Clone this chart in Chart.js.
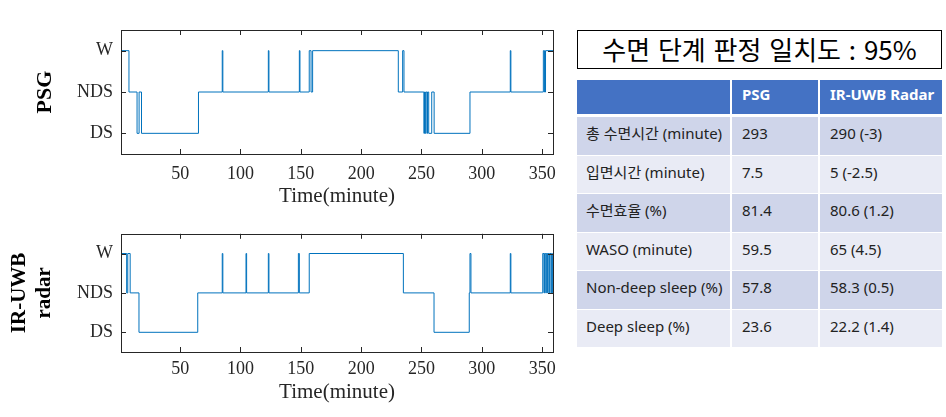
<!DOCTYPE html>
<html>
<head>
<meta charset="utf-8">
<script src="https://cdn.jsdelivr.net/npm/chart.js@4/dist/chart.umd.min.js"></script>
<style>
  html, body { margin: 0; padding: 0; background: #fff; }
  body { width: 946px; height: 417px; position: relative; overflow: hidden; }
  canvas { position: absolute; left: 0; }
  #psgChart { top: 0; }
  #radarChart { top: 215px; }
  #agree {
    position: absolute; left: 577px; top: 30px; width: 365px; height: 39px;
    box-sizing: border-box; border: 1.5px solid #000;
    font-family: "Noto Sans CJK KR", sans-serif; font-size: 26px; color: #000;
    text-align: center; line-height: 35px; white-space: nowrap; word-spacing: 2px;
  }
  #statTable {
    position: absolute; left: 577px; top: 80px; width: 365px;
    display: grid; grid-template-columns: 155px 88px 122px;
    grid-template-rows: 37px repeat(6, 38.5px);
    font-family: "Noto Sans", "Noto Sans CJK KR", sans-serif; font-size: 15px; color: #222;
  }
  #statTable div {
    box-sizing: border-box; padding: 6px 0 0 10px; white-space: nowrap;
    border-bottom: 1.5px solid #fff; line-height: 20px;
  }
  #statTable div.c0, #statTable div.c1 { border-right: 2px solid #fff; }
  #statTable div.c0 { padding-left: 9px; }
  #statTable div.head { background: #4472C4; color: #fff; font-weight: bold; padding-top: 4px; border-bottom: 3px solid #fff; }
  #statTable div.odd { background: #CFD5EA; }
  #statTable div.even { background: #E9EBF5; }
</style>
</head>
<body>
<canvas id="psgChart" width="570" height="215"></canvas>
<canvas id="radarChart" width="570" height="202"></canvas>
<div id="agree"></div>
<div id="statTable"></div>
<script>
// === Hypnogram data (minute where a stage starts, stage reached) ===
const stageLabels = ["W", "NDS", "DS"];
const xTicks = [50, 100, 150, 200, 250, 300, 350];
const xMin = 1;
const xMax = 359;

const psgTime = [1, 7.6, 14.3, 16, 18, 65.2, 84.9, 85.4, 123.1, 123.6, 148.8, 149.3, 157, 158.5, 159.8,
  230.8, 234.4, 235.5, 252, 252.5, 253, 253.5, 254.5, 255, 256, 258.5, 260.5, 290.2, 323.6, 324.1,
  351, 352, 352.8, 359];
const psgStage = ["W", "NDS", "DS", "NDS", "DS", "NDS", "W", "NDS", "W", "NDS", "W", "NDS", "W", "NDS", "W",
  "NDS", "W", "NDS", "DS", "NDS", "DS", "NDS", "DS", "NDS", "DS", "NDS", "DS", "NDS", "W", "NDS",
  "W", "NDS", "W", "W"];

const radarTime = [1, 5.7, 6.6, 8.6, 15.9, 64.6, 84.9, 85.4, 104.6, 105.1, 123.1, 123.6, 148, 148.8, 157,
  235, 260.4, 289.6, 290.2, 291, 323.6, 324.1, 350.5, 351.5, 352, 353, 353.5, 354.5, 355, 356,
  356.5, 357.5, 358, 358.5, 359];
const radarStage = ["W", "NDS", "W", "NDS", "DS", "NDS", "W", "NDS", "W", "NDS", "W", "NDS", "W", "NDS", "W",
  "NDS", "DS", "NDS", "W", "NDS", "W", "NDS", "W", "NDS", "W", "NDS", "W", "NDS", "W", "NDS",
  "W", "NDS", "W", "NDS", "NDS"];

// === Table data ===
const agreementText = "수면 단계 판정 일치도 : 95%";
const tableHeader = ["", "PSG", "IR-UWB Radar"];
const rowLabels = ["총 수면시간 (minute)", "입면시간 (minute)", "수면효율 (%)", "WASO (minute)", "Non-deep sleep (%)", "Deep sleep (%)"];
const psgValues = ["293", "7.5", "81.4", "59.5", "57.8", "23.6"];
const radarValues = ["290 (-3)", "5 (-2.5)", "80.6 (1.2)", "65 (4.5)", "58.3 (0.5)", "22.2 (1.4)"];

const lineColor = "#0072BD";
const axisColor = "#262626";
const serif = "'Liberation Serif', 'Times New Roman', serif";

// === MATLAB-like box with inward ticks on all four sides ===
const boxPlugin = {
  id: "matlabBox",
  afterDraw(chart) {
    const { ctx, chartArea: a, scales } = chart;
    const tl = 5;
    ctx.save();
    ctx.strokeStyle = axisColor;
    ctx.lineWidth = 1;
    ctx.strokeRect(Math.round(a.left) + 0.5, Math.round(a.top) + 0.5,
      Math.round(a.right - a.left), Math.round(a.bottom - a.top));
    ctx.beginPath();
    scales.x.ticks.forEach((t, i) => {
      const px = Math.round(scales.x.getPixelForTick(i)) + 0.5;
      ctx.moveTo(px, a.bottom); ctx.lineTo(px, a.bottom - tl);
      ctx.moveTo(px, a.top); ctx.lineTo(px, a.top + tl);
    });
    scales.y.ticks.forEach((t, i) => {
      const py = Math.round(scales.y.getPixelForTick(i)) + 0.5;
      ctx.moveTo(a.left, py); ctx.lineTo(a.left + tl, py);
      ctx.moveTo(a.right, py); ctx.lineTo(a.right - tl, py);
    });
    ctx.stroke();
    ctx.restore();
  }
};

function makeHypnogram(canvasId, times, stages, o) {
  const points = times.map((t, i) => ({ x: t, y: stages[i] }));
  return new Chart(document.getElementById(canvasId), {
    type: "line",
    data: {
      datasets: [{
        data: points,
        stepped: true,
        borderColor: lineColor,
        borderWidth: 1,
        pointRadius: 0,
        fill: false
      }]
    },
    options: {
      responsive: false,
      animation: false,
      layout: { padding: { top: o.top, right: 17, left: 0, bottom: 0 }, autoPadding: false },
      plugins: { legend: { display: false }, tooltip: { enabled: false } },
      scales: {
        x: {
          type: "linear",
          min: xMin,
          max: xMax,
          grid: { display: false, drawTicks: false },
          border: { display: false },
          afterBuildTicks: s => { s.ticks = xTicks.map(v => ({ value: v })); },
          afterFit: s => { s.height = o.xHeight; },
          ticks: { padding: o.xPad, autoSkip: false, maxRotation: 0, color: axisColor, font: { family: serif, size: 18 } },
          title: { display: true, text: "Time(minute)", color: axisColor, font: { family: serif, size: 21 }, padding: { top: 0, bottom: o.titlePad } }
        },
        y: {
          type: "category",
          labels: stageLabels,
          offset: true,
          grid: { display: false, drawTicks: false },
          border: { display: false },
          afterFit: s => { s.width = 121; },
          ticks: { padding: 8, color: axisColor, font: { family: serif, size: 18 } },
          title: { display: true, text: o.yTitle, color: "#000", font: { family: serif, size: o.yTitleSize, weight: "bold" }, padding: { top: o.yTitlePad, bottom: 0 } }
        }
      }
    },
    plugins: [boxPlugin]
  });
}

makeHypnogram("psgChart", psgTime, psgStage, { top: 30, xHeight: 61, xPad: 9, titlePad: 6, yTitle: "PSG", yTitleSize: 22, yTitlePad: 32 });
makeHypnogram("radarChart", radarTime, radarStage, { top: 14, xHeight: 65, xPad: 6, titlePad: 12, yTitle: ["IR-UWB", "radar"], yTitleSize: 21, yTitlePad: 7 });

// === Right panel: agreement box and summary table ===
document.getElementById("agree").textContent = agreementText;

const grid = document.getElementById("statTable");
function addCell(text, cls) {
  const d = document.createElement("div");
  d.className = cls;
  d.textContent = text;
  grid.appendChild(d);
}
tableHeader.forEach((h, c) => addCell(h, "head c" + c));
rowLabels.forEach((label, r) => {
  const band = r % 2 === 0 ? "odd" : "even";
  addCell(label, band + " c0");
  addCell(psgValues[r], band + " c1");
  addCell(radarValues[r], band + " c2");
});
</script>
</body>
</html>
